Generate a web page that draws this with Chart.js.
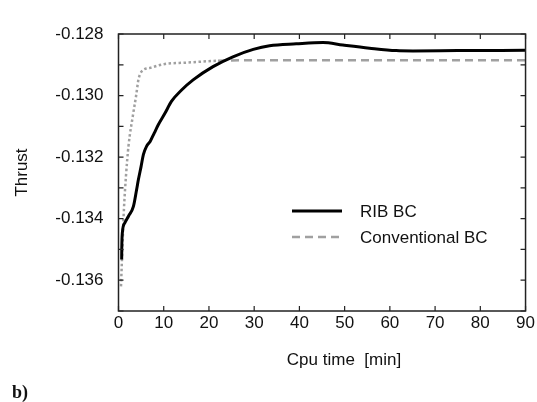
<!DOCTYPE html>
<html>
<head>
<meta charset="utf-8">
<script src="https://cdn.jsdelivr.net/npm/chart.js@4/dist/chart.umd.min.js"></script>
<style>
  html, body { margin: 0; padding: 0; background: #fff; }
  #wrap { width: 537px; height: 402px; }
</style>
</head>
<body>
<div id="wrap"><canvas id="chart" width="537" height="402"></canvas></div>
<script>
// ── Data ─────────────────────────────────────────────────
const ribTime = [0.7, 0.72, 0.85, 1.4, 2.2, 3.3, 4.0, 4.4, 5.0, 5.5, 6.2, 7.0, 7.9, 8.8, 10.3, 11.7, 13.95, 16.5, 20.9, 25.3, 29.8, 33.4, 39.3, 45.2, 49.6, 55.5, 61.4, 65.1, 75, 90];
const ribThrust = [-0.13533, -0.1350, -0.13446, -0.13414, -0.13392, -0.1336, -0.13306, -0.13273, -0.1323, -0.13192, -0.13165, -0.13149, -0.13122, -0.13095, -0.13057, -0.13019, -0.12982, -0.12949, -0.12906, -0.12874, -0.1285, -0.12838, -0.12832, -0.12828, -0.12836, -0.12846, -0.12854, -0.12855, -0.12854, -0.12853];

const convTime = [0.55, 0.85, 1.2, 1.65, 2.2, 3.27, 3.9, 4.4, 5.1, 7, 10, 15, 22, 30, 90];
const convThrust = [-0.1362, -0.1350, -0.1337, -0.13262, -0.13165, -0.13057, -0.1300, -0.12949, -0.12922, -0.1291, -0.12898, -0.12893, -0.12887, -0.12885, -0.12885];

const xTicks = [0, 10, 20, 30, 40, 50, 60, 70, 80, 90];
const yMin = -0.137, yMax = -0.128;

const labels = ['RIB BC', 'Conventional BC'];
const xTitle = 'Cpu time  [min]';
const yTitle = 'Thrust';
const panelTag = 'b)';

const FONT = '"Liberation Sans", Arial, sans-serif';
const GRAY = '#a0a0a0';

const toPts = (xs, ys) => xs.map((x, i) => ({ x, y: ys[i] }));

// ── Frame, inward ticks, legend, titles ──────────────────
const decor = {
  id: 'decor',
  afterDraw(chart) {
    const { ctx, chartArea: a, scales: { x, y } } = chart;
    ctx.save();
    ctx.strokeStyle = '#222';
    ctx.lineWidth = 1.5;
    ctx.strokeRect(a.left, a.top, a.right - a.left, a.bottom - a.top);

    const tl = 5;
    ctx.lineWidth = 1.2;
    ctx.beginPath();
    x.ticks.forEach(t => {
      const px = x.getPixelForValue(t.value);
      ctx.moveTo(px, a.bottom); ctx.lineTo(px, a.bottom - tl);
      ctx.moveTo(px, a.top);    ctx.lineTo(px, a.top + tl);
    });
    y.ticks.forEach(t => {
      const py = y.getPixelForValue(t.value);
      ctx.moveTo(a.left, py);  ctx.lineTo(a.left + tl, py);
      ctx.moveTo(a.right, py); ctx.lineTo(a.right - tl, py);
    });
    ctx.stroke();

    // legend
    const ds = chart.data.datasets;
    const lx0 = 292, lx1 = 342, ly = [211, 237];
    ds.forEach((d, i) => {
      ctx.beginPath();
      ctx.strokeStyle = d.borderColor;
      ctx.lineWidth = d.borderWidth;
      ctx.setLineDash(i === 1 ? [8, 5] : []);
      ctx.moveTo(lx0, ly[i]); ctx.lineTo(lx1, ly[i]);
      ctx.stroke();
      ctx.setLineDash([]);
      ctx.fillStyle = '#111';
      ctx.font = '17px ' + FONT;
      ctx.textBaseline = 'middle';
      ctx.textAlign = 'left';
      ctx.fillText(d.label, 360, ly[i] + 1);
    });

    // x title
    ctx.fillStyle = '#111';
    ctx.font = '17px ' + FONT;
    ctx.textAlign = 'center';
    ctx.textBaseline = 'middle';
    ctx.fillText(xTitle, 344, 360);

    // panel tag
    ctx.font = 'bold 18px "Liberation Serif", "Times New Roman", serif';
    ctx.textAlign = 'left';
    ctx.textBaseline = 'alphabetic';
    ctx.fillText(panelTag, 12, 398);
    ctx.restore();
  }
};

new Chart(document.getElementById('chart'), {
  type: 'line',
  data: {
    datasets: [{
      label: labels[0],
      data: toPts(ribTime, ribThrust),
      borderColor: '#000',
      borderWidth: 3,
      pointRadius: 0,
      cubicInterpolationMode: 'monotone',
      fill: false,
    }, {
      label: labels[1],
      data: toPts(convTime, convThrust),
      borderColor: GRAY,
      borderWidth: 2.5,
      pointRadius: 0,
      cubicInterpolationMode: 'monotone',
      fill: false,
      segment: {
        borderDash: c => c.p0.parsed.x >= 21 ? [8, 5] : [2.5, 2.5],
      },
    }],
  },
  options: {
    responsive: false,
    animation: false,
    layout: { padding: { top: 34, right: 11, left: 0, bottom: 0 } },
    scales: {
      x: {
        type: 'linear',
        min: 0, max: 90,
        afterBuildTicks: s => { s.ticks = xTicks.map(v => ({ value: v })); },
        afterFit: s => { s.height = 91; },
        grid: { display: false, tickLength: 0 },
        border: { display: false },
        ticks: { color: '#111', padding: 2, font: { size: 17, family: FONT } },
      },
      y: {
        min: yMin, max: yMax,
        afterBuildTicks: s => {
          const t = [];
          for (let k = 0; k <= 9; k++) t.push({ value: +(yMin + k * 0.001).toFixed(3) });
          s.ticks = t;
        },
        afterFit: s => { s.width = 118.5; },
        grid: { display: false, tickLength: 0 },
        border: { display: false },
        title: { display: true, text: yTitle, color: '#111', font: { size: 17, family: FONT }, padding: { top: 12, bottom: 0 } },
        ticks: {
          color: '#111', padding: 15,
          font: { size: 17, family: FONT },
          callback: v => (Math.round(-v * 1000) % 2 === 0) ? v.toFixed(3) : '',
        },
      },
    },
    plugins: {
      legend: { display: false },
      tooltip: { enabled: false },
    },
  },
  plugins: [decor],
});
</script>
</body>
</html>
